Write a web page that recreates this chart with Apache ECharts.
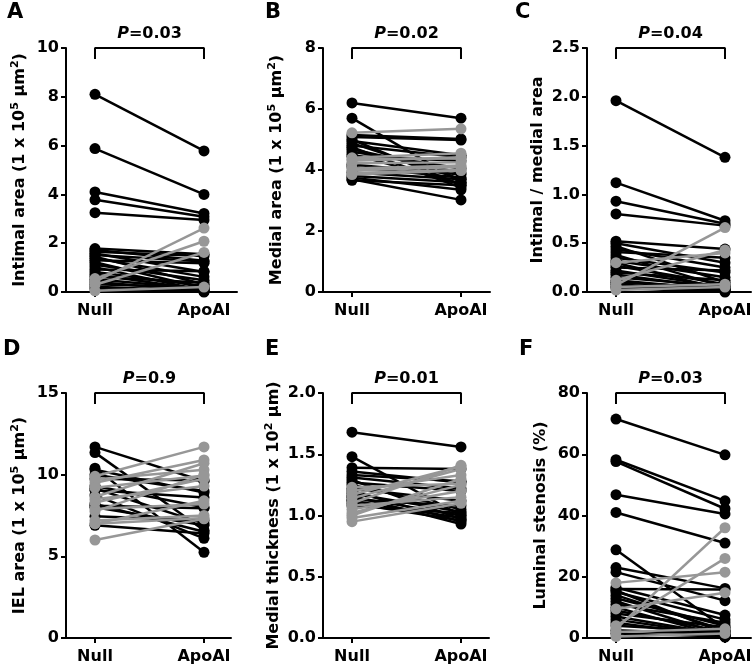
<!DOCTYPE html>
<html>
<head>
<meta charset="utf-8">
<script src="https://cdn.jsdelivr.net/npm/echarts@6/dist/echarts.min.js"></script>
<style>
  html, body { margin: 0; padding: 0; background: #fff; }
  #chart { width: 755px; height: 671px; }
</style>
</head>
<body>
<div id="chart"></div>
<script>
// ---------- data ----------
const categories = ['Null', 'ApoAI'];

// A: Intimal area (1 x 10^5 um^2)
const nullA = [8.1, 5.88, 4.1, 3.78, 3.25, 1.78, 1.72, 1.65, 1.58, 1.52, 1.45, 1.38, 1.3, 1.22, 1.12, 1.02, 0.92, 0.82, 0.72, 0.62, 0.52, 0.42, 0.32, 0.22, 0.12, 0.42, 0.55, 0.3, 0.05];
const apoA  = [5.78, 4.0, 3.22, 3.08, 2.95, 1.55, 1.28, 1.48, 0.82, 1.25, 0.32, 0.62, 1.18, 0.15, 0.48, 0.05, 0.85, 0.25, 0.08, 0.38, 0.12, 0.02, 0.18, 0.04, 0.0, 2.62, 2.08, 1.62, 0.2];

// B: Medial area (1 x 10^5 um^2)
const nullB = [6.2, 5.7, 5.22, 5.15, 5.08, 5.0, 4.95, 4.88, 4.8, 4.75, 4.68, 4.6, 4.52, 4.45, 4.4, 4.35, 4.3, 4.22, 4.18, 4.1, 4.05, 3.98, 3.92, 3.85, 3.8, 3.75, 3.7, 3.66, 3.9];
const apoB  = [5.7, 3.6, 5.35, 5.02, 4.98, 3.5, 4.48, 3.7, 4.42, 3.42, 3.9, 4.05, 3.55, 4.3, 4.55, 4.38, 4.42, 4.25, 3.85, 3.75, 4.15, 4.1, 3.7, 3.98, 3.6, 3.35, 3.02, 3.5, 4.0];

// C: Intimal / medial area
const nullC = [1.96, 1.12, 0.93, 0.8, 0.52, 0.5, 0.47, 0.44, 0.41, 0.38, 0.35, 0.32, 0.3, 0.27, 0.25, 0.22, 0.2, 0.18, 0.15, 0.12, 0.1, 0.08, 0.06, 0.04, 0.07, 0.12, 0.3, 0.02, 0.05];
const apoC  = [1.38, 0.73, 0.7, 0.68, 0.44, 0.3, 0.1, 0.25, 0.35, 0.05, 0.2, 0.15, 0.02, 0.08, 0.22, 0.05, 0.12, 0.03, 0.06, 0.02, 0.04, 0.01, 0.02, 0.0, 0.66, 0.43, 0.4, 0.05, 0.08];

// D: IEL area (1 x 10^5 um^2)
const nullD = [11.7, 11.35, 10.4, 10.3, 9.3, 9.15, 9.05, 8.75, 8.1, 8.0, 7.45, 6.9, 9.75, 10.0, 8.2, 9.9, 9.5, 8.65, 7.75, 8.5, 7.0, 6.0, 7.2, 9.7, 7.9, 8.3, 7.0, 9.2];
const apoD  = [9.6, 6.6, 5.25, 8.9, 8.0, 7.0, 8.6, 6.1, 7.95, 6.9, 7.2, 6.4, 9.65, 9.0, 6.5, 11.7, 10.9, 10.7, 10.0, 9.3, 8.4, 7.3, 7.5, 10.3, 8.2, 9.75, 7.35, 9.95];

// E: Medial thickness (1 x 10^2 um)
const nullE = [1.68, 1.48, 1.39, 1.33, 1.31, 1.29, 1.27, 1.25, 1.22, 1.2, 1.18, 1.16, 1.15, 1.13, 1.12, 1.1, 1.08, 1.36, 1.23, 0.95, 1.0, 1.05, 1.1, 1.2, 1.08, 0.98, 1.02, 1.14, 1.17];
const apoE  = [1.56, 1.0, 1.38, 1.28, 1.22, 0.97, 1.2, 1.05, 1.12, 0.95, 1.03, 0.93, 1.0, 1.08, 0.98, 0.96, 1.02, 1.27, 1.26, 1.1, 1.3, 1.2, 1.41, 1.33, 1.15, 1.12, 1.25, 1.38, 1.4];

// F: Luminal stenosis (%)
const nullF = [71.5, 58.2, 57.6, 46.8, 41, 28.8, 23, 21.5, 16.5, 16, 15.5, 15, 14, 13, 12, 11, 10, 9, 8, 7, 6, 5, 4, 2.5, 1.5, 18, 3, 4, 9.5, 0.5, 2];
const apoF  = [59.8, 44.8, 42.2, 40.5, 31, 3, 16.2, 12.2, 7.5, 15.8, 1.5, 6, 2.5, 4, 1, 5, 0.5, 2, 3.5, 1, 0.8, 0.3, 2, 1.2, 0.5, 21.5, 36, 26, 14.8, 1.5, 3];

const pValues = ['0.03', '0.02', '0.04', '0.9', '0.01', '0.03'];
const panelLetters = ['A', 'B', 'C', 'D', 'E', 'F'];

// ---------- layout / style ----------
const FONT = 'DejaVu Sans';
const BLACK = '#000000';
const GRAY = '#979797';
const PX_PER_UNIT = 109;   // horizontal px between Null and ApoAI
const XMIN = -0.266;

const panels = [
  { nulls: nullA, apos: apoA, max: 10, interval: 2, dec: 0, name: 'Intimal area (1 x 10{sup|5} μm{sup|2})', grid: { left: 66, top: 48, width: 171, height: 244 } },
  { nulls: nullB, apos: apoB, max: 8, interval: 2, dec: 0, name: 'Medial area (1 x 10{sup|5} μm{sup|2})', grid: { left: 323, top: 48, width: 167, height: 244 } },
  { nulls: nullC, apos: apoC, max: 2.5, interval: 0.5, dec: 1, name: 'Intimal / medial area', grid: { left: 587, top: 48, width: 164, height: 244 } },
  { nulls: nullD, apos: apoD, max: 15, interval: 5, dec: 0, name: 'IEL area (1 x 10{sup|5} μm{sup|2})', grid: { left: 66, top: 393, width: 165, height: 245 } },
  { nulls: nullE, apos: apoE, max: 2.0, interval: 0.5, dec: 1, name: 'Medial thickness (1 x 10{sup|2} μm)', grid: { left: 323, top: 393, width: 166, height: 245 } },
  { nulls: nullF, apos: apoF, max: 80, interval: 20, dec: 0, name: 'Luminal stenosis (%)', grid: { left: 587, top: 393, width: 164, height: 245 } }
];

const letterPos = [[7, 13], [265, 13], [515, 13], [3, 350], [265, 350], [519, 350]];

const grids = [], xAxes = [], yAxes = [], series = [];

panels.forEach((p, i) => {
  grids.push(Object.assign({ containLabel: false }, p.grid));
  const xmax = XMIN + p.grid.width / PX_PER_UNIT;
  xAxes.push({
    gridIndex: i, type: 'value', min: XMIN, max: xmax,
    axisLine: { show: true, onZero: false, lineStyle: { color: BLACK, width: 2 } },
    axisTick: { show: true, customValues: [0, 1], length: 5, lineStyle: { color: BLACK, width: 2 } },
    axisLabel: {
      customValues: [0, 1], formatter: v => categories[Math.round(v)],
      color: BLACK, fontFamily: FONT, fontWeight: 'bold', fontSize: 16, margin: 11
    },
    splitLine: { show: false }
  });
  yAxes.push({
    gridIndex: i, type: 'value', min: 0, max: p.max, interval: p.interval,
    axisLine: { show: true, onZero: false, lineStyle: { color: BLACK, width: 2 } },
    axisTick: { show: true, length: 5, lineStyle: { color: BLACK, width: 2 } },
    axisLabel: {
      formatter: v => v.toFixed(p.dec), color: BLACK, fontFamily: FONT,
      fontWeight: 'bold', fontSize: 16, margin: 7
    },
    splitLine: { show: false },
    name: p.name, nameLocation: 'middle', nameGap: 36,
    nameTextStyle: {
      color: BLACK, fontFamily: FONT, fontWeight: 'bold', fontSize: 16, lineHeight: 20,
      rich: { sup: { color: BLACK, fontFamily: FONT, fontWeight: 'bold', fontSize: 11, lineHeight: 12, verticalAlign: 'top' } }
    }
  });

  // paired subject lines: gray when value rises, black otherwise
  p.nulls.forEach((nv, k) => {
    const av = p.apos[k];
    const up = av > nv;
    const c = up ? GRAY : BLACK;
    series.push({
      type: 'line', xAxisIndex: i, yAxisIndex: i, silent: true, animation: false,
      data: [[0, nv], [1, av]],
      symbol: 'circle', symbolSize: 11,
      lineStyle: { color: c, width: 2.5 },
      itemStyle: { color: c },
      z: up ? 4 : 3
    });
  });

  // significance bracket
  const d = p.max * 0.045;
  series.push({
    type: 'line', xAxisIndex: i, yAxisIndex: i, silent: true, animation: false, clip: false,
    data: [[0, p.max - d], [0, p.max], [1, p.max], [1, p.max - d]],
    symbol: 'none', lineStyle: { color: BLACK, width: 2 }, z: 5
  });
});

const chart = echarts.init(document.getElementById('chart'), null, { renderer: 'canvas' });
chart.setOption({
  backgroundColor: '#ffffff',
  animation: false,
  grid: grids, xAxis: xAxes, yAxis: yAxes, series: series
});

// annotations: panel letters and P values above the brackets
const graphics = [];
panels.forEach((p, i) => {
  const pt = chart.convertToPixel({ gridIndex: i }, [0.5, p.max]);
  graphics.push({
    type: 'text', x: pt[0], y: pt[1] - 14, silent: true,
    style: {
      text: '{i|P}=' + pValues[i],
      fill: BLACK, fontFamily: FONT, fontWeight: 'bold', fontSize: 16,
      textAlign: 'center', textVerticalAlign: 'middle',
      rich: { i: { fontFamily: FONT, fontWeight: 'bold', fontStyle: 'italic', fontSize: 16, fill: BLACK } }
    }
  });
  graphics.push({
    type: 'text', x: letterPos[i][0], y: letterPos[i][1], silent: true,
    style: {
      text: panelLetters[i], fill: BLACK, fontFamily: FONT, fontWeight: 'bold', fontSize: 21,
      textAlign: 'left', textVerticalAlign: 'middle'
    }
  });
});
chart.setOption({ graphic: graphics });
</script>
</body>
</html>
